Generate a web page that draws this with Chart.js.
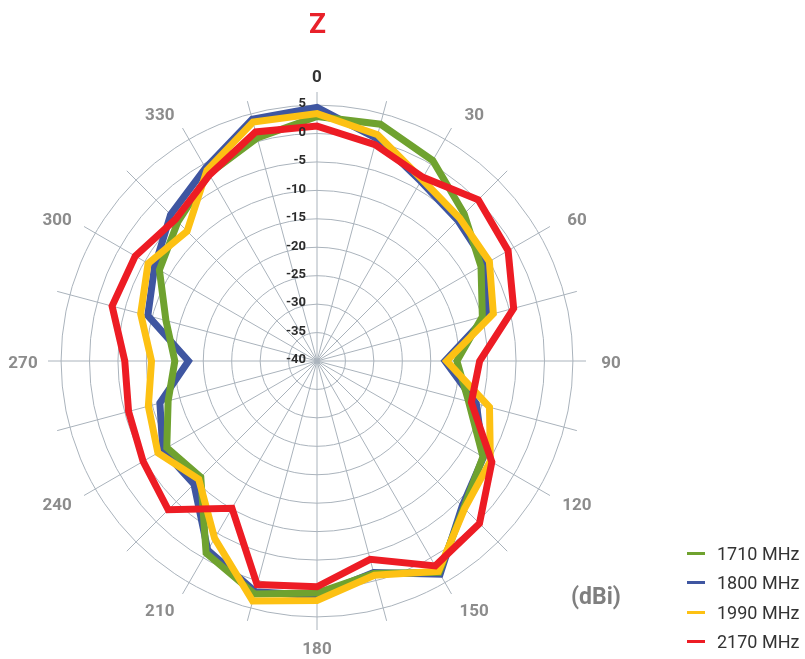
<!DOCTYPE html>
<html>
<head>
<meta charset="utf-8">
<script src="https://cdn.jsdelivr.net/npm/chart.js@4"></script>
<style>
  body { margin: 0; background: #fff; font-family: Roboto, sans-serif; }
  #wrap { position: absolute; left: 0; top: 0; width: 805px; height: 659px; }
  #title { position: absolute; left: 267px; top: 10px; width: 101px; text-align: center;
           color: #e8212a; font: bold 28px/28px Roboto, sans-serif; }
  #unit { position: absolute; left: 571px; top: 585px; color: #7f7f7f; font: bold 23px/23px Roboto, sans-serif; }
  #legend { position: absolute; left: 687px; top: 539px; }
  .row { height: 29.3px; display: flex; align-items: center; font-size: 18px; color: #333; }
  .swatch { width: 18px; height: 3px; margin-right: 12px; }
</style>
</head>
<body>
<div id="wrap"><canvas id="myChart"></canvas></div>
<div id="title">Z</div>
<div id="unit">(dBi)</div>
<div id="legend"></div>
<script>
// angles every 15 degrees, labels every 30
var angles = ["0","15","30","45","60","75","90","105","120","135","150","165",
              "180","195","210","225","240","255","270","285","300","315","330","345"];
var angleLabels = ["0","","30","","60","","90","","120","","150","",
                   "180","","210","","240","","270","","300","","330",""];
var tickValues = [-40,-35,-30,-25,-20,-15,-10,-5,0,5];

var names = ["1710 MHz","1800 MHz","1990 MHz","2170 MHz"];
var colors = ["#6fa22f","#3f56a1","#fdc113","#ed1c24"];

var gain1710 = [3.0,3.1,0.7,-3.4,-6.7,-9.9,-15.4,-12.4,-6.3,-3.5,2.9,-1.3,
                0.8,2.4,-1.0,-11.1,-9.5,-12.9,-15.0,-12.5,-8.0,-5.4,-2.0,0.6];
var gain1800 = [4.6,0.5,-3.5,-5.0,-5.7,-8.9,-17.5,-11.0,-6.2,-3.9,3.3,-1.5,
                1.25,2.0,-1.6,-9.4,-8.7,-11.4,-17.4,-9.2,-7.0,-3.6,-0.8,4.0];
var gain1990 = [3.5,1.2,-3.1,-4.5,-5.0,-7.9,-17.2,-8.6,-4.8,-3.3,2.7,-1.0,
                2.1,3.7,-4.0,-10.6,-7.7,-9.3,-10.9,-7.9,-5.7,-7.7,-1.3,3.5];
var gain2170 = [1.3,-0.6,-2.7,0.1,-1.2,-4.2,-11.4,-11.9,-4.5,0.4,1.6,-3.9,
                -0.3,0.7,-10.1,-3.0,-4.7,-5.7,-6.2,-2.7,-3.1,-4.8,-2.2,1.7];

var series = [gain1710, gain1800, gain1990, gain2170];
var drawOrder = [2, 3, 1, 0]; // red on top, then yellow, green, blue

var datasets = series.map(function (vals, i) {
  return {
    label: names[i],
    data: vals,
    borderColor: colors[i],
    backgroundColor: colors[i],
    borderWidth: 7,
    pointRadius: 0,
    fill: false,
    tension: 0,
    order: drawOrder[i]
  };
});

// legend in html
var legendHtml = "";
names.forEach(function (n, i) {
  legendHtml += '<div class="row"><span class="swatch" style="background:' + colors[i] + '"></span>' + n + '</div>';
});
document.getElementById("legend").innerHTML = legendHtml;

// axis labels drawn on the canvas through the radial scale
var labelPlugin = {
  id: "labelPlugin",
  afterDraw: function (chart) {
    var ctx = chart.ctx;
    var scale = chart.scales.r;
    ctx.save();
    ctx.textAlign = "center";
    ctx.textBaseline = "middle";
    ctx.font = "bold 17px Roboto";
    angleLabels.forEach(function (lab, i) {
      if (!lab) return;
      var th = i * 15 * Math.PI / 180;
      var s2 = Math.sin(2 * th);
      // labels sit a little off the spoke, pushed towards the horizontal
      var tweak = Math.abs(s2) > 0.01 ? Math.sign(s2) * (1.85 + 1.1 * Math.cos(2 * th)) : 0;
      var d = 286 + 8 * Math.abs(Math.sin(th)) + 4 * Math.abs(s2);
      var p = scale.getPointPosition(i, d, tweak * Math.PI / 180);
      ctx.fillStyle = lab === "0" ? "#333333" : "#8c8c8c";
      ctx.fillText(lab, p.x, p.y + 2.5);
    });
    ctx.textAlign = "right";
    ctx.font = "bold 13px Roboto";
    ctx.fillStyle = "#2b2b2b";
    tickValues.forEach(function (v) {
      var y = scale.yCenter - scale.getDistanceFromCenterForValue(v) - 1;
      ctx.fillText(String(v), scale.xCenter - 11, y);
    });
    ctx.restore();
  }
};

new Chart("myChart", {
  type: "radar",
  data: {
    labels: angles,
    datasets: datasets
  },
  options: {
    responsive: true,
    maintainAspectRatio: false,
    animation: false,
    layout: { padding: { left: 48, top: 92, right: 219, bottom: 29 } },
    elements: { line: { borderJoinStyle: "miter" } },
    plugins: {
      legend: { display: false },
      title: { display: false },
      tooltip: { enabled: false }
    },
    scales: {
      r: {
        min: -40,
        max: 7.3,
        ticks: { display: false, stepSize: 5, includeBounds: false },
        grid: { color: "#aab3bc", lineWidth: 1, circular: true },
        angleLines: { color: "#aab3bc", lineWidth: 1 },
        pointLabels: { display: false }
      }
    }
  },
  plugins: [labelPlugin]
});
</script>
</body>
</html>
